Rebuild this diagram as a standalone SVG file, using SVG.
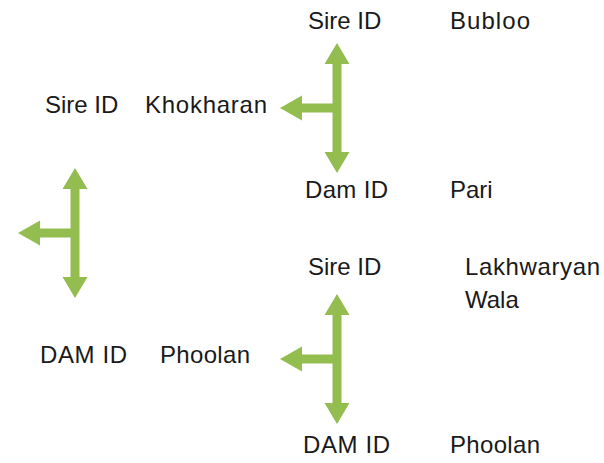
<svg xmlns="http://www.w3.org/2000/svg" xmlns:xlink="http://www.w3.org/1999/xlink" width="604" height="463" viewBox="0 0 604 463">
<style>
text{font-family:"Liberation Sans",Arial,sans-serif;font-size:24px;fill:#1a1a1a}
.arr{fill:#94BD4F}
</style>
<defs>
<path id="tee" d="M0,-65 L12.5,-44 L4.5,-44 L4.5,44 L12.5,44 L0,65 L-12.5,44 L-4.5,44 L-4.5,4.5 L-35,4.5 L-35,12.5 L-57,0 L-35,-12.5 L-35,-4.5 L-4.5,-4.5 L-4.5,-44 L-12.5,-44 Z"/>
</defs>
<rect width="604" height="463" fill="#ffffff"/>
<g id="connectors">
<use xlink:href="#tee" class="arr" transform="translate(337,108)"/>
<use xlink:href="#tee" class="arr" transform="translate(75,233)"/>
<use xlink:href="#tee" class="arr" transform="translate(337,359)"/>
</g>
<g id="sire-top"><text x="308" y="29">Sire ID</text><text x="450" y="29" textLength="80">Bubloo</text></g>
<g id="sire-left"><text x="45" y="113">Sire ID</text><text x="145" y="113" textLength="122">Khokharan</text></g>
<g id="dam-top"><text x="305" y="198" textLength="83">Dam ID</text><text x="450" y="198">Pari</text></g>
<g id="sire-lower"><text x="308" y="275">Sire ID</text><text x="465" y="275" textLength="135">Lakhwaryan</text><text x="465" y="308">Wala</text></g>
<g id="dam-left"><text x="40" y="363" textLength="87">DAM ID</text><text x="160" y="363" textLength="90">Phoolan</text></g>
<g id="dam-bottom"><text x="303" y="453" textLength="87">DAM ID</text><text x="450" y="453" textLength="90">Phoolan</text></g>
</svg>
